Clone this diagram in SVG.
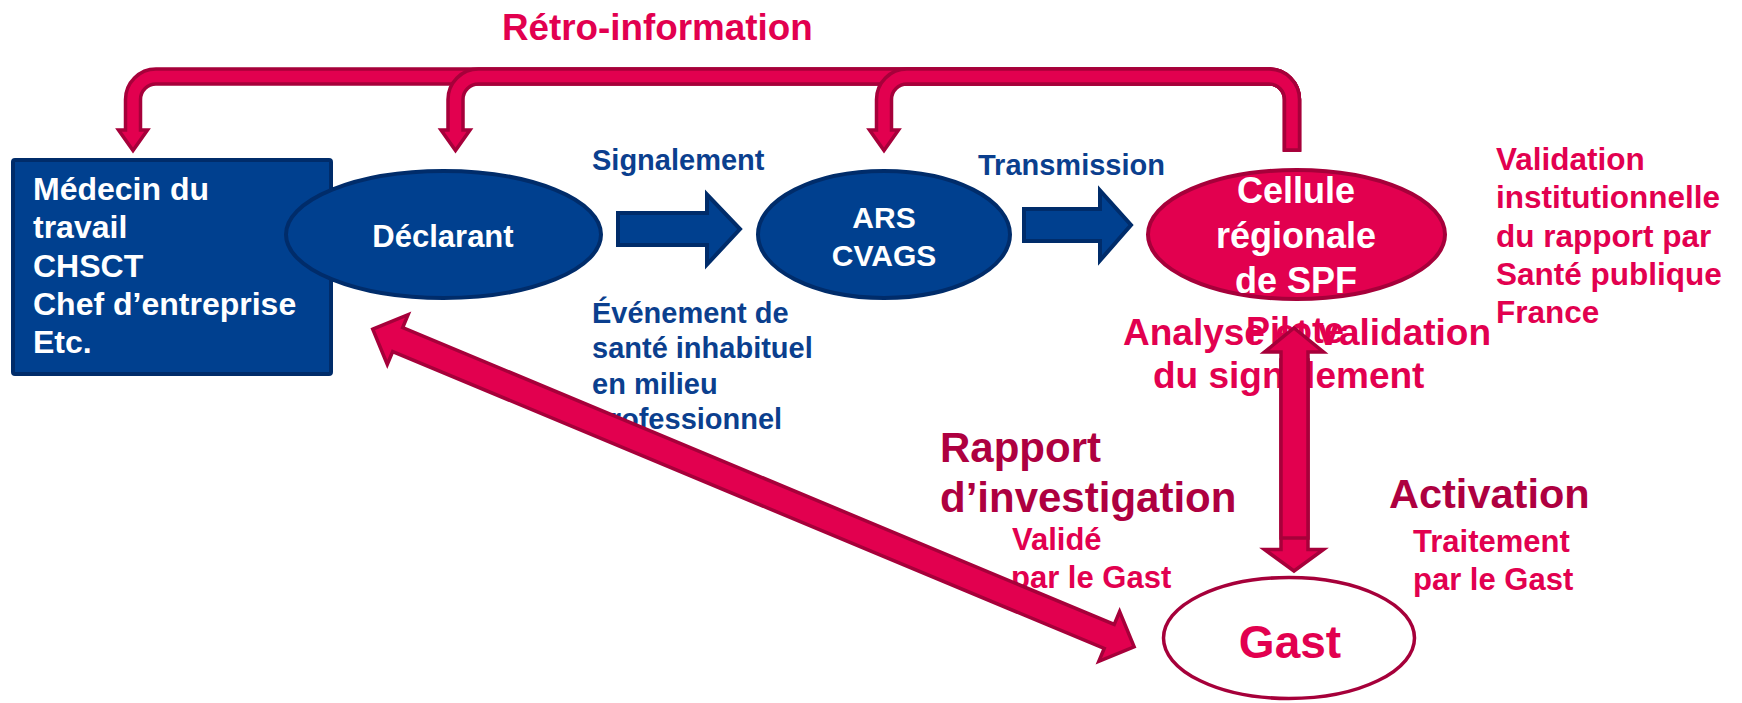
<svg xmlns="http://www.w3.org/2000/svg" width="1742" height="703" viewBox="0 0 1742 703">
<style>
text{font-family:"Liberation Sans",Arial,Helvetica,sans-serif;font-weight:bold}
.w{fill:#FFFFFF}
.b{fill:#0B3F8E}
.p{fill:#E2004F}
.d{fill:#AE0040}
.mid{text-anchor:middle}
.blue{fill:#00408F;stroke:#002C6A;stroke-width:4}
.pink{fill:#E2004F;stroke:#A6003A;stroke-width:3.5;stroke-linejoin:miter}
</style>
<rect width="1742" height="703" fill="#FFFFFF"/>
<g id="labels">
<text class="p" x="502" y="40" font-size="36.8">Rétro-information</text>
<text class="b" x="592" y="170" font-size="29">Signalement</text>
<text class="b" x="978" y="175" font-size="29">Transmission</text>
<text class="b" font-size="29"><tspan x="592" y="323">Événement de</tspan><tspan x="592" y="358">santé inhabituel</tspan><tspan x="592" y="394">en milieu</tspan><tspan x="592" y="429">professionnel</tspan></text>
<text class="p" font-size="31.5"><tspan x="1496" y="170">Validation</tspan><tspan x="1496" y="208">institutionnelle</tspan><tspan x="1496" y="247">du rapport par</tspan><tspan x="1496" y="285">Santé publique</tspan><tspan x="1496" y="323">France</tspan></text>
<text class="p" font-size="37"><tspan x="1123" y="345">Analyse et validation</tspan><tspan x="1153" y="388">du signalement</tspan></text>
<text class="p mid" x="1295" y="343" font-size="36">Pilote</text>
<text class="d" font-size="42"><tspan x="940" y="462">Rapport</tspan><tspan x="940" y="512">d’investigation</tspan></text>
<text class="p" font-size="31"><tspan x="1012" y="550">Validé</tspan><tspan x="1011" y="588">par le Gast</tspan></text>
<text class="d" x="1389" y="508" font-size="41.5">Activation</text>
<text class="p" font-size="31"><tspan x="1413" y="552">Traitement</tspan><tspan x="1413" y="590">par le Gast</tspan></text>
</g>
<g id="node-medecin">
<rect x="13" y="160" width="318" height="214" rx="2" fill="#00408F" stroke="#002C6A" stroke-width="4"/>
<text class="w" font-size="32"><tspan x="33" y="200">Médecin du</tspan><tspan x="33" y="238">travail</tspan><tspan x="33" y="277">CHSCT</tspan><tspan x="33" y="315">Chef d’entreprise</tspan><tspan x="33" y="353">Etc.</tspan></text>
</g>
<g id="node-declarant">
<ellipse cx="443.5" cy="234.5" rx="157.5" ry="63.5" class="blue"/>
<text class="w mid" x="443" y="247" font-size="31">Déclarant</text>
</g>
<g id="node-ars">
<ellipse cx="884" cy="234.5" rx="126" ry="63.5" class="blue"/>
<text class="w mid" font-size="30"><tspan x="884" y="228">ARS</tspan><tspan x="884" y="266">CVAGS</tspan></text>
</g>
<g id="node-cellule">
<ellipse cx="1296.5" cy="234.5" rx="148.5" ry="64.5" fill="#E2004F" stroke="#A6003A" stroke-width="4"/>
<text class="w mid" font-size="36"><tspan x="1296" y="203">Cellule</tspan><tspan x="1296" y="248">régionale</tspan><tspan x="1296" y="293">de SPF</tspan></text>
</g>
<g id="node-gast">
<ellipse cx="1289" cy="638" rx="125.5" ry="60.5" fill="#FFFFFF" stroke="#A6003A" stroke-width="3.5"/>
<text class="p mid" x="1290" y="658" font-size="46">Gast</text>
</g>
<g id="connectors">
<polygon class="blue" points="618,213 707,213 707,194.5 740,229 707,264.5 707,245 618,245"/>
<polygon class="blue" points="1024,209 1100,209 1100,190.5 1131,225 1100,260.5 1100,241 1024,241"/>
<path class="pink" d="M133,150.5 L147.5,130 L140.5,130 L140.5,99.5 A15.5,15.5 0 0 1 156,84 L1269,84 A15.5,15.5 0 0 1 1284.5,99.5 L1284.5,150 L1299.5,150 L1299.5,99.5 A30.5,30.5 0 0 0 1269,69 L156,69 A30.5,30.5 0 0 0 125.5,99.5 L125.5,130 L118.5,130 Z"/>
<path class="pink" d="M455.5,150.5 L470,130 L463,130 L463,99.5 A15.5,15.5 0 0 1 478.5,84 L1269,84 A15.5,15.5 0 0 1 1284.5,99.5 L1284.5,150 L1299.5,150 L1299.5,99.5 A30.5,30.5 0 0 0 1269,69 L478.5,69 A30.5,30.5 0 0 0 448,99.5 L448,130 L441,130 Z"/>
<path class="pink" d="M884,150.5 L898.5,130 L891.5,130 L891.5,99.5 A15.5,15.5 0 0 1 907,84 L1269,84 A15.5,15.5 0 0 1 1284.5,99.5 L1284.5,150 L1299.5,150 L1299.5,99.5 A30.5,30.5 0 0 0 1269,69 L907,69 A30.5,30.5 0 0 0 876.5,99.5 L876.5,130 L869.5,130 Z"/>
<polygon class="pink" points="1281,360 1308,360 1308,549.5 1323.5,549.5 1294,571 1264.5,549.5 1281,549.5"/>
<polygon class="pink" points="1294,328 1323.5,352 1308,352 1308,538 1281,538 1281,352 1264.5,352"/>
<g transform="translate(370,328) rotate(22.65)">
<polygon class="pink" points="3,0 30,-27 30,-13 801,-13 801,-27 828,0 801,27 801,13 30,13 30,27"/>
</g>
</g>
</svg>
